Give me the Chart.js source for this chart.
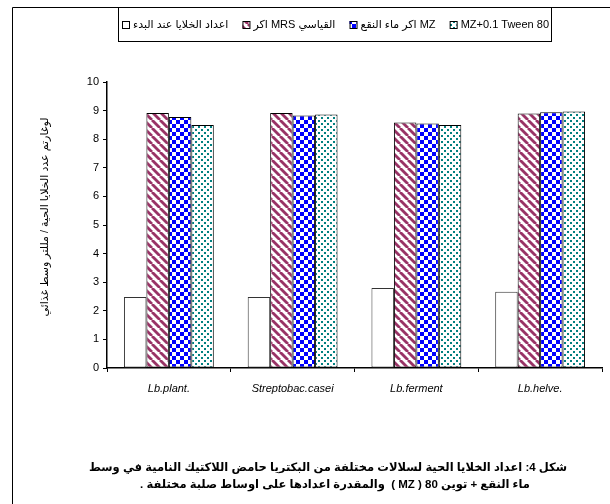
<!DOCTYPE html>
<html>
<head>
<meta charset="utf-8">
<script src="https://cdn.jsdelivr.net/npm/chart.js@4"></script>
<style>
  body { margin: 0; background: #fff; }
  #wrap { width: 610px; height: 504px; }
</style>
</head>
<body>
<div id="wrap"><canvas id="chart" width="610" height="504"></canvas></div>
<script>
// strains on the x axis
var strains = ['Lb.plant.', 'Streptobac.casei', 'Lb.ferment', 'Lb.helve.'];

// log count per series
var initialCount = [2.48, 2.48, 2.80, 2.67];
var mrsAgar = [8.92, 8.92, 8.58, 8.90];
var mzAgar = [8.78, 8.83, 8.55, 8.94];
var mzTween = [8.50, 8.86, 8.50, 8.97];

var seriesNames = ['اعداد الخلايا عند البدء', 'اكر MRS القياسي', 'اكر ماء النقع MZ', 'MZ+0.1 Tween 80'];

var yTitle = 'لوغارتم عدد الخلايا الحية / مللتر وسط غذائي';
var caption = [
    'شكل 4: اعداد الخلايا الحية لسلالات مختلفة من البكتريا حامض اللاكتيك النامية في وسط',
    'ماء النقع + توين 80 ( MZ )  والمقدرة اعدادها على اوساط صلبة مختلفة .'
];

var FONT = '"Liberation Sans", Arial, "DejaVu Sans", sans-serif';

function makePattern(size, draw) {
    var c = document.createElement('canvas');
    c.width = size;
    c.height = size;
    var g = c.getContext('2d');
    g.fillStyle = '#fff';
    g.fillRect(0, 0, size, size);
    draw(g, size);
    return document.getElementById('chart').getContext('2d').createPattern(c, 'repeat');
}

var stripes = makePattern(8, function (g, s) {
    g.strokeStyle = '#993366';
    g.lineWidth = 2.8;
    for (var x = -s; x <= s; x += s) {
        g.beginPath();
        g.moveTo(x, 0);
        g.lineTo(x + s, s);
        g.stroke();
    }
});

var checks = makePattern(8, function (g) {
    g.fillStyle = '#0000ff';
    g.fillRect(0, 0, 4, 4);
    g.fillRect(4, 4, 4, 4);
});

var dots = makePattern(6, function (g) {
    g.fillStyle = '#008080';
    g.fillRect(0, 0, 2, 2);
    g.fillRect(3, 3, 2, 2);
});

var fills = ['#ffffff', stripes, checks, dots];

// frame, legend, y title and caption
var decor = {
    id: 'decor',
    afterDraw: function (chart) {
        var ctx = chart.ctx;
        ctx.save();
        ctx.strokeStyle = '#000';
        ctx.lineWidth = 1;
        // outer frame (top and left only visible)
        ctx.beginPath();
        ctx.moveTo(12.5, 504);
        ctx.lineTo(12.5, 7.5);
        ctx.lineTo(610, 7.5);
        ctx.stroke();

        // legend box
        var lx = 118, rx = 551, ty = 7, by = 41;
        ctx.strokeRect(lx + 0.5, ty + 0.5, rx - lx, by - ty);
        ctx.font = '11px ' + FONT;
        ctx.textBaseline = 'middle';
        ctx.fillStyle = '#000';
        var box = 7, gapBox = 4;
        var widths = seriesNames.map(function (t) { return ctx.measureText(t).width; });
        var used = widths.reduce(function (a, b) { return a + b; }, 0) + 4 * (box + gapBox);
        var start = 122;
        var gap = (549 - start - used) / 3;
        var x = start, cy = 25;
        for (var i = 0; i < seriesNames.length; i++) {
            ctx.fillStyle = fills[i];
            ctx.fillRect(x, cy - 4, box, box);
            ctx.strokeStyle = '#000';
            ctx.strokeRect(x + 0.5, cy - 3.5, box, box);
            x += box + gapBox;
            ctx.fillStyle = '#000';
            ctx.textAlign = 'left';
            ctx.fillText(seriesNames[i], x, cy);
            x += widths[i] + gap;
        }

        // y axis title
        ctx.save();
        ctx.translate(45, 217);
        ctx.rotate(-Math.PI / 2);
        ctx.textAlign = 'center';
        ctx.font = '11px ' + FONT;
        ctx.fillText(yTitle, 0, 0);
        ctx.restore();

        // caption
        ctx.font = 'bold 11.5px ' + FONT;
        ctx.textAlign = 'center';
        ctx.direction = 'rtl';
        ctx.fillText(caption[0], 328, 468);
        ctx.fillText(caption[1], 335, 485);
        ctx.restore();
    }
};

function dataset(label, data, fill, border) {
    return {
        label: label,
        data: data,
        backgroundColor: fill,
        borderColor: border,
        borderWidth: 1,
        borderSkipped: false,
        categoryPercentage: 0.726,
        barPercentage: 1.0
    };
}

new Chart(document.getElementById('chart'), {
    type: 'bar',
    data: {
        labels: strains,
        datasets: [
            dataset(seriesNames[0], initialCount, fills[0], '#333'),
            dataset(seriesNames[1], mrsAgar, fills[1], '#000'),
            dataset(seriesNames[2], mzAgar, fills[2], '#000'),
            dataset(seriesNames[3], mzTween, fills[3], '#000')
        ]
    },
    options: {
        responsive: false,
        animation: false,
        layout: { padding: { left: 67, top: 82, right: 8, bottom: 106 } },
        plugins: {
            legend: { display: false },
            tooltip: { enabled: false }
        },
        scales: {
            x: {
                afterFit: function (s) { s.height = 30; },
                grid: { drawOnChartArea: false, color: '#000', tickLength: 4, offset: true },
                border: { color: '#000', width: 1.5 },
                ticks: { color: '#000', padding: 10, font: { family: FONT, size: 11, style: 'italic' } }
            },
            y: {
                min: 0,
                max: 10,
                afterFit: function (s) { s.width = 40; },
                grid: { drawOnChartArea: false, color: '#000', tickLength: 4 },
                border: { color: '#000', width: 1.5 },
                ticks: { stepSize: 1, color: '#000', padding: 4, font: { family: FONT, size: 11 } }
            }
        }
    },
    plugins: [decor]
});
</script>
</body>
</html>
